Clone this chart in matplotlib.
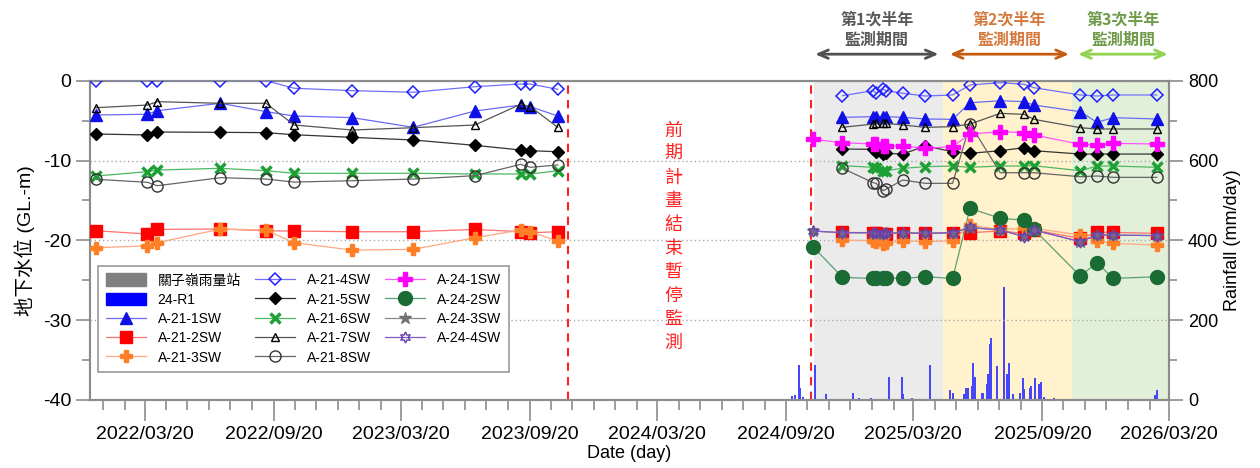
import matplotlib
matplotlib.use("Agg")
import matplotlib.pyplot as plt
import matplotlib.dates as mdates
import matplotlib.transforms as mtransforms
from matplotlib.patches import Patch
from matplotlib.lines import Line2D
import numpy as np
import pandas as pd

plt.rcParams['font.family'] = ['Liberation Sans', 'Noto Sans CJK TC', 'DejaVu Sans']
plt.rcParams['axes.unicode_minus'] = False

# Fechas de las mediciones (fase anterior y fase nueva)
fechas_1 = pd.to_datetime(['2022-01-10', '2022-03-24', '2022-04-07', '2022-07-06', '2022-09-09',
                           '2022-10-19', '2023-01-10', '2023-04-07', '2023-07-04', '2023-09-07',
                           '2023-09-21', '2023-10-30'])
fechas_2 = pd.to_datetime(['2024-12-09', '2025-01-22', '2025-01-26', '2025-02-05', '2025-02-09',
                           '2025-03-05', '2025-04-06', '2025-05-15', '2025-06-09', '2025-07-22',
                           '2025-08-25', '2025-09-08', '2025-11-13', '2025-12-07', '2025-12-30',
                           '2026-03-02'])
fechas_24 = pd.to_datetime(['2024-10-28']).append(fechas_2)

# Niveles de agua (GL.-m) pozos A-21
a21_1 = ([-4.3, -4.2, -3.76, -2.83, -3.88, -4.42, -4.63, -5.84, -3.8, -3.05, -3.26, -4.42],
         [-4.59, -4.51, -4.59, -4.51, -4.51, -4.59, -4.8, -4.84, -2.76, -2.51, -2.63, -3.05, -3.88, -5.22, -4.63, -4.8])
a21_2 = ([-18.8, -19.21, -18.63, -18.58, -18.8, -18.84, -18.92, -18.92, -18.63, -18.92, -19.05, -18.92],
         [-19.0, -19.04, -19.13, -19.21, -19.21, -19.04, -19.13, -19.04, -19.04, -18.83, -19.13, -18.71, -19.75, -19.0, -19.0, -19.13])
a21_3 = ([-20.93, -20.68, -20.3, -18.58, -18.71, -20.3, -21.22, -21.13, -19.67, -18.71, -18.92, -20.09],
         [-19.96, -20.05, -20.17, -20.46, -20.38, -20.05, -20.17, -20.05, -18.1, -18.63, -18.5, -18.5, -19.33, -20.05, -20.38, -20.59])
a21_4 = ([0, 0, 0, 0, 0, -0.95, -1.25, -1.45, -0.75, -0.42, -0.42, -1.08],
         [-1.88, -1.25, -1.58, -1.08, -1.25, -1.58, -1.92, -1.79, -0.54, -0.25, -0.45, -0.88, -1.79, -1.92, -1.79, -1.79])
a21_5 = ([-6.68, -6.8, -6.43, -6.47, -6.51, -6.77, -7.1, -7.43, -8.1, -8.68, -8.77, -8.9],
         [-8.56, -8.6, -8.89, -9.19, -9.1, -9.19, -8.18, -8.89, -9.1, -8.77, -8.39, -8.77, -9.19, -9.19, -9.19, -9.19])
a21_6 = ([-11.94, -11.4, -11.19, -10.98, -11.28, -11.6, -11.6, -11.6, -11.69, -11.69, -11.69, -11.28],
         [-10.65, -10.85, -10.98, -11.28, -11.28, -10.98, -10.77, -10.69, -10.85, -10.69, -10.69, -10.65, -11.28, -10.69, -10.69, -10.85])
a21_7 = ([-3.38, -3.05, -2.63, -2.83, -2.83, -5.55, -6.18, -5.89, -5.55, -2.96, -3.26, -5.84],
         [-5.84, -5.43, -5.35, -5.26, -5.35, -5.55, -5.84, -5.76, -5.43, -4.09, -4.22, -4.84, -5.89, -6.05, -6.05, -6.05])
a21_8 = ([-12.36, -12.73, -13.16, -12.15, -12.32, -12.7, -12.53, -12.32, -11.9, -10.48, -10.85, -10.56],
         [-10.98, -12.78, -12.86, -13.78, -13.61, -12.44, -12.86, -12.86, -5.43, -11.53, -11.53, -11.53, -12.03, -11.94, -12.11, -12.11])

# Pozos A-24 (solo fase nueva)
a24_1 = [-7.34, -7.77, -7.93, -7.93, -8.18, -8.18, -8.18, -8.47, -8.27, -6.68, -6.39, -6.51, -6.8, -7.97, -8.06, -7.85, -7.93]
a24_2 = [-20.8, -24.64, -24.77, -24.77, -24.77, -24.7, -24.77, -24.56, -24.77, -15.99, -17.25, -17.46, -18.63, -24.47, -22.81, -24.77, -24.56]
a24_3 = [-18.85, -19.05, -19.06, -19.15, -19.2, -19.12, -19.05, -19.12, -19.05, -18.4, -18.72, -19.5, -18.72, -20.15, -19.32, -19.34, -19.4]
a24_4 = [-18.83, -19.04, -19.04, -19.13, -19.21, -19.13, -19.04, -19.13, -19.04, -18.38, -18.71, -19.54, -18.71, -20.17, -19.33, -19.33, -19.42]

# Lluvia diaria 24-R1 (mm/day)
lluvia_fechas = pd.to_datetime(['2024-09-28', '2024-10-03', '2024-10-08', '2024-10-09', '2024-10-14',
                                '2024-10-31', '2024-11-16', '2024-12-24', '2025-01-02', '2025-01-18',
                                '2025-02-13', '2025-02-14', '2025-03-04', '2025-03-06', '2025-03-18',
                                '2025-04-13', '2025-05-11', '2025-05-16', '2025-05-31', '2025-06-03',
                                '2025-06-06', '2025-06-12', '2025-06-13', '2025-06-16', '2025-06-26',
                                '2025-06-28', '2025-07-03', '2025-07-05', '2025-07-07', '2025-07-08',
                                '2025-07-09', '2025-07-17', '2025-07-27', '2025-07-31', '2025-08-01',
                                '2025-08-03', '2025-08-09', '2025-08-19', '2025-08-23', '2025-08-25',
                                '2025-09-02', '2025-09-04', '2025-09-10', '2025-09-15', '2025-09-18',
                                '2025-09-22', '2025-10-06', '2026-02-28', '2026-03-02'])
lluvia_mm = [10, 12, 88, 30, 8, 88, 15, 18, 6, 4, 58, 25, 58, 15, 6, 88, 25, 18, 15, 30,
             30, 35, 93, 58, 18, 18, 40, 65, 117, 140, 155, 85, 284, 58, 65, 93, 15, 18, 55, 28,
             30, 35, 55, 40, 45, 8, 5, 12, 25]

# Periodos de monitoreo semestral
periodos = [('2024-10-29', '2025-05-01', '#EBEBEB', '第1次半年\n監測期間', '#595959', '#505050'),
            ('2025-05-01', '2025-11-01', '#FFF2CC', '第2次半年\n監測期間', '#D57A3E', '#C55A11'),
            ('2025-11-01', '2026-03-20', '#E2F0D9', '第3次半年\n監測期間', '#6E9B48', '#92D050')]
pausa = ['2023-11-14', '2024-10-25']

fig = plt.figure(figsize=(12.6, 4.68), dpi=100)
ax = fig.add_axes([0.0714, 0.1453, 0.8566, 0.6823])
ax2 = ax.twinx()
ax.set_zorder(ax2.get_zorder() + 1)
ax.patch.set_visible(False)

for ini, fin, fondo, txt, ctxt, cfl in periodos:
    ax2.axvspan(pd.Timestamp(ini), pd.Timestamp(fin), color=fondo, zorder=0, lw=0)

ax2.bar(lluvia_fechas, lluvia_mm, width=2.8, color='#4646FA', zorder=2, lw=0, antialiased=False)
ax2.set_ylim(0, 800)
ax2.set_yticks([0, 200, 400, 600, 800])
ax2.set_yticks([100, 300, 500, 700], minor=True)
ax2.set_ylabel('Rainfall (mm/day)', fontsize=13, labelpad=4)

estilos = [
    ('A-21-1SW', a21_1, dict(color='#6A6AF5', marker='^', mfc='#1010E8', mec='#1010E8', ms=8)),
    ('A-21-2SW', a21_2, dict(color='#FF7070', marker='s', mfc='#FF0000', mec='#FF0000', ms=8)),
    ('A-21-3SW', a21_3, dict(color='#FFA880', marker='P', mfc='#FF7F27', mec='#FF7F27', ms=9)),
    ('A-21-4SW', a21_4, dict(color='#7070FF', marker='D', mfc='none', mec='#2020FF', ms=6.5, mew=1.1)),
    ('A-21-5SW', a21_5, dict(color='#333333', marker='D', mfc='black', mec='black', ms=6.5)),
    ('A-21-6SW', a21_6, dict(color='#4CB860', marker='x', mfc='#1FA035', mec='#1FA035', ms=7.5, mew=2.5)),
    ('A-21-7SW', a21_7, dict(color='#555555', marker='^', mfc='none', mec='black', ms=6, mew=1)),
    ('A-21-8SW', a21_8, dict(color='#666666', marker='o', mfc='none', mec='#333333', ms=8, mew=1)),
]
for nombre, (v1, v2), st in estilos:
    ax.plot(fechas_1, v1, lw=0.9, zorder=3, **st)
    ax.plot(fechas_2, v2, lw=0.9, zorder=3, **st)

estilos_24 = [
    ('A-24-1SW', a24_1, dict(color='#FF55FF', marker='P', mfc='#FF00FF', mec='#FF00FF', ms=9.5)),
    ('A-24-2SW', a24_2, dict(color='#5E9E74', marker='o', mfc='#1B6B34', mec='#1B6B34', ms=10)),
    ('A-24-3SW', a24_3, dict(color='#888888', marker='*', mfc='#707070', mec='#707070', ms=9)),
    ('A-24-4SW', a24_4, dict(color='#7E57C2', marker=(6, 1, 0), mfc='none', mec='#6A3DAA', ms=8, mew=1)),
]
for nombre, v, st in estilos_24:
    ax.plot(fechas_24, v, lw=0.9, zorder=3, **st)

for f in pausa:
    ax.axvline(pd.Timestamp(f), color='#FF2020', ls=(0, (4, 3)), lw=1.5, zorder=2)

ax.text(pd.Timestamp('2024-04-12'), -19.55, '\n'.join('前期計畫結束暫停監測'), color='#FF2020',
        fontsize=13, ha='center', va='center', linespacing=1.4, family=['Noto Sans CJK TC'])

# Flechas y rótulos de los periodos
trans = mtransforms.blended_transform_factory(ax.transData, ax.transAxes)
flechas = [('2024-10-27', '2025-04-29'), ('2025-05-07', '2025-11-01'), ('2025-11-06', '2026-03-22')]
for (ini, fin, fondo, txt, ctxt, cfl), (a, b) in zip(periodos, flechas):
    ta, tb = mdates.date2num(pd.Timestamp(a)), mdates.date2num(pd.Timestamp(b))
    ax.annotate('', xy=(tb, 1.083), xytext=(ta, 1.083), xycoords=trans, textcoords=trans,
                arrowprops=dict(arrowstyle='<->,head_length=0.7,head_width=0.3', color=cfl, lw=2),
                annotation_clip=False)
    ax.text((ta + tb) / 2, 1.16, txt, transform=trans, ha='center', va='center', fontsize=11.5,
            fontweight='bold', color=ctxt, linespacing=1.3, family=['Noto Sans CJK TC'])

ax.set_ylim(-40, 0)
ax.set_yticks([-40, -30, -20, -10, 0])
ax.set_yticks([-35, -25, -15, -5], minor=True)
ax.grid(axis='y', which='major', ls=(0, (1, 2)), color='#AAAAAA', lw=1)
ax.set_ylabel('地下水位 (GL.-m)', fontsize=14, labelpad=6)

ax.set_xlim(pd.Timestamp('2022-01-01'), pd.Timestamp('2026-03-20'))
ax.set_xticks(pd.to_datetime(['2022-03-20', '2022-09-20', '2023-03-20', '2023-09-20', '2024-03-20',
                              '2024-09-20', '2025-03-20', '2025-09-20', '2026-03-20']))
ax.xaxis.set_minor_locator(mdates.MonthLocator(bymonthday=20))
ax.xaxis.set_major_formatter(mdates.DateFormatter('%Y/%m/%d'))
ax.set_xlabel('Date (day)', fontsize=13, labelpad=2)

for a in (ax, ax2):
    for s in a.spines.values():
        s.set_color('#8C8C8C')
        s.set_linewidth(1.5)
    a.tick_params(which='major', direction='out', length=10, width=1.2, color='#8C8C8C', labelsize=14)
    a.tick_params(which='minor', direction='out', length=6, width=1.2, color='#8C8C8C')
ax.tick_params(axis='x', which='major', length=15)
ax.tick_params(axis='x', which='minor', length=7)
ax2.tick_params(labelsize=13)

# Leyenda
handles = [Patch(color='#808080'), Patch(color='#0000FF')]
labels = ['關子嶺雨量站', '24-R1']
for nombre, vals, st in estilos + estilos_24:
    handles.append(Line2D([], [], lw=0.9, **st))
    labels.append(nombre)
leg = ax.legend(handles, labels, ncol=3, loc='upper left', bbox_to_anchor=(0.001, 0.442),
                fontsize=10, frameon=True, fancybox=False, edgecolor='#999999', framealpha=1,
                handlelength=2.9, handleheight=1.0, labelspacing=0.38, columnspacing=1.0,
                handletextpad=0.85, borderpad=0.55)
leg.get_frame().set_linewidth(1.2)

fig.savefig('out.png', dpi=100)
